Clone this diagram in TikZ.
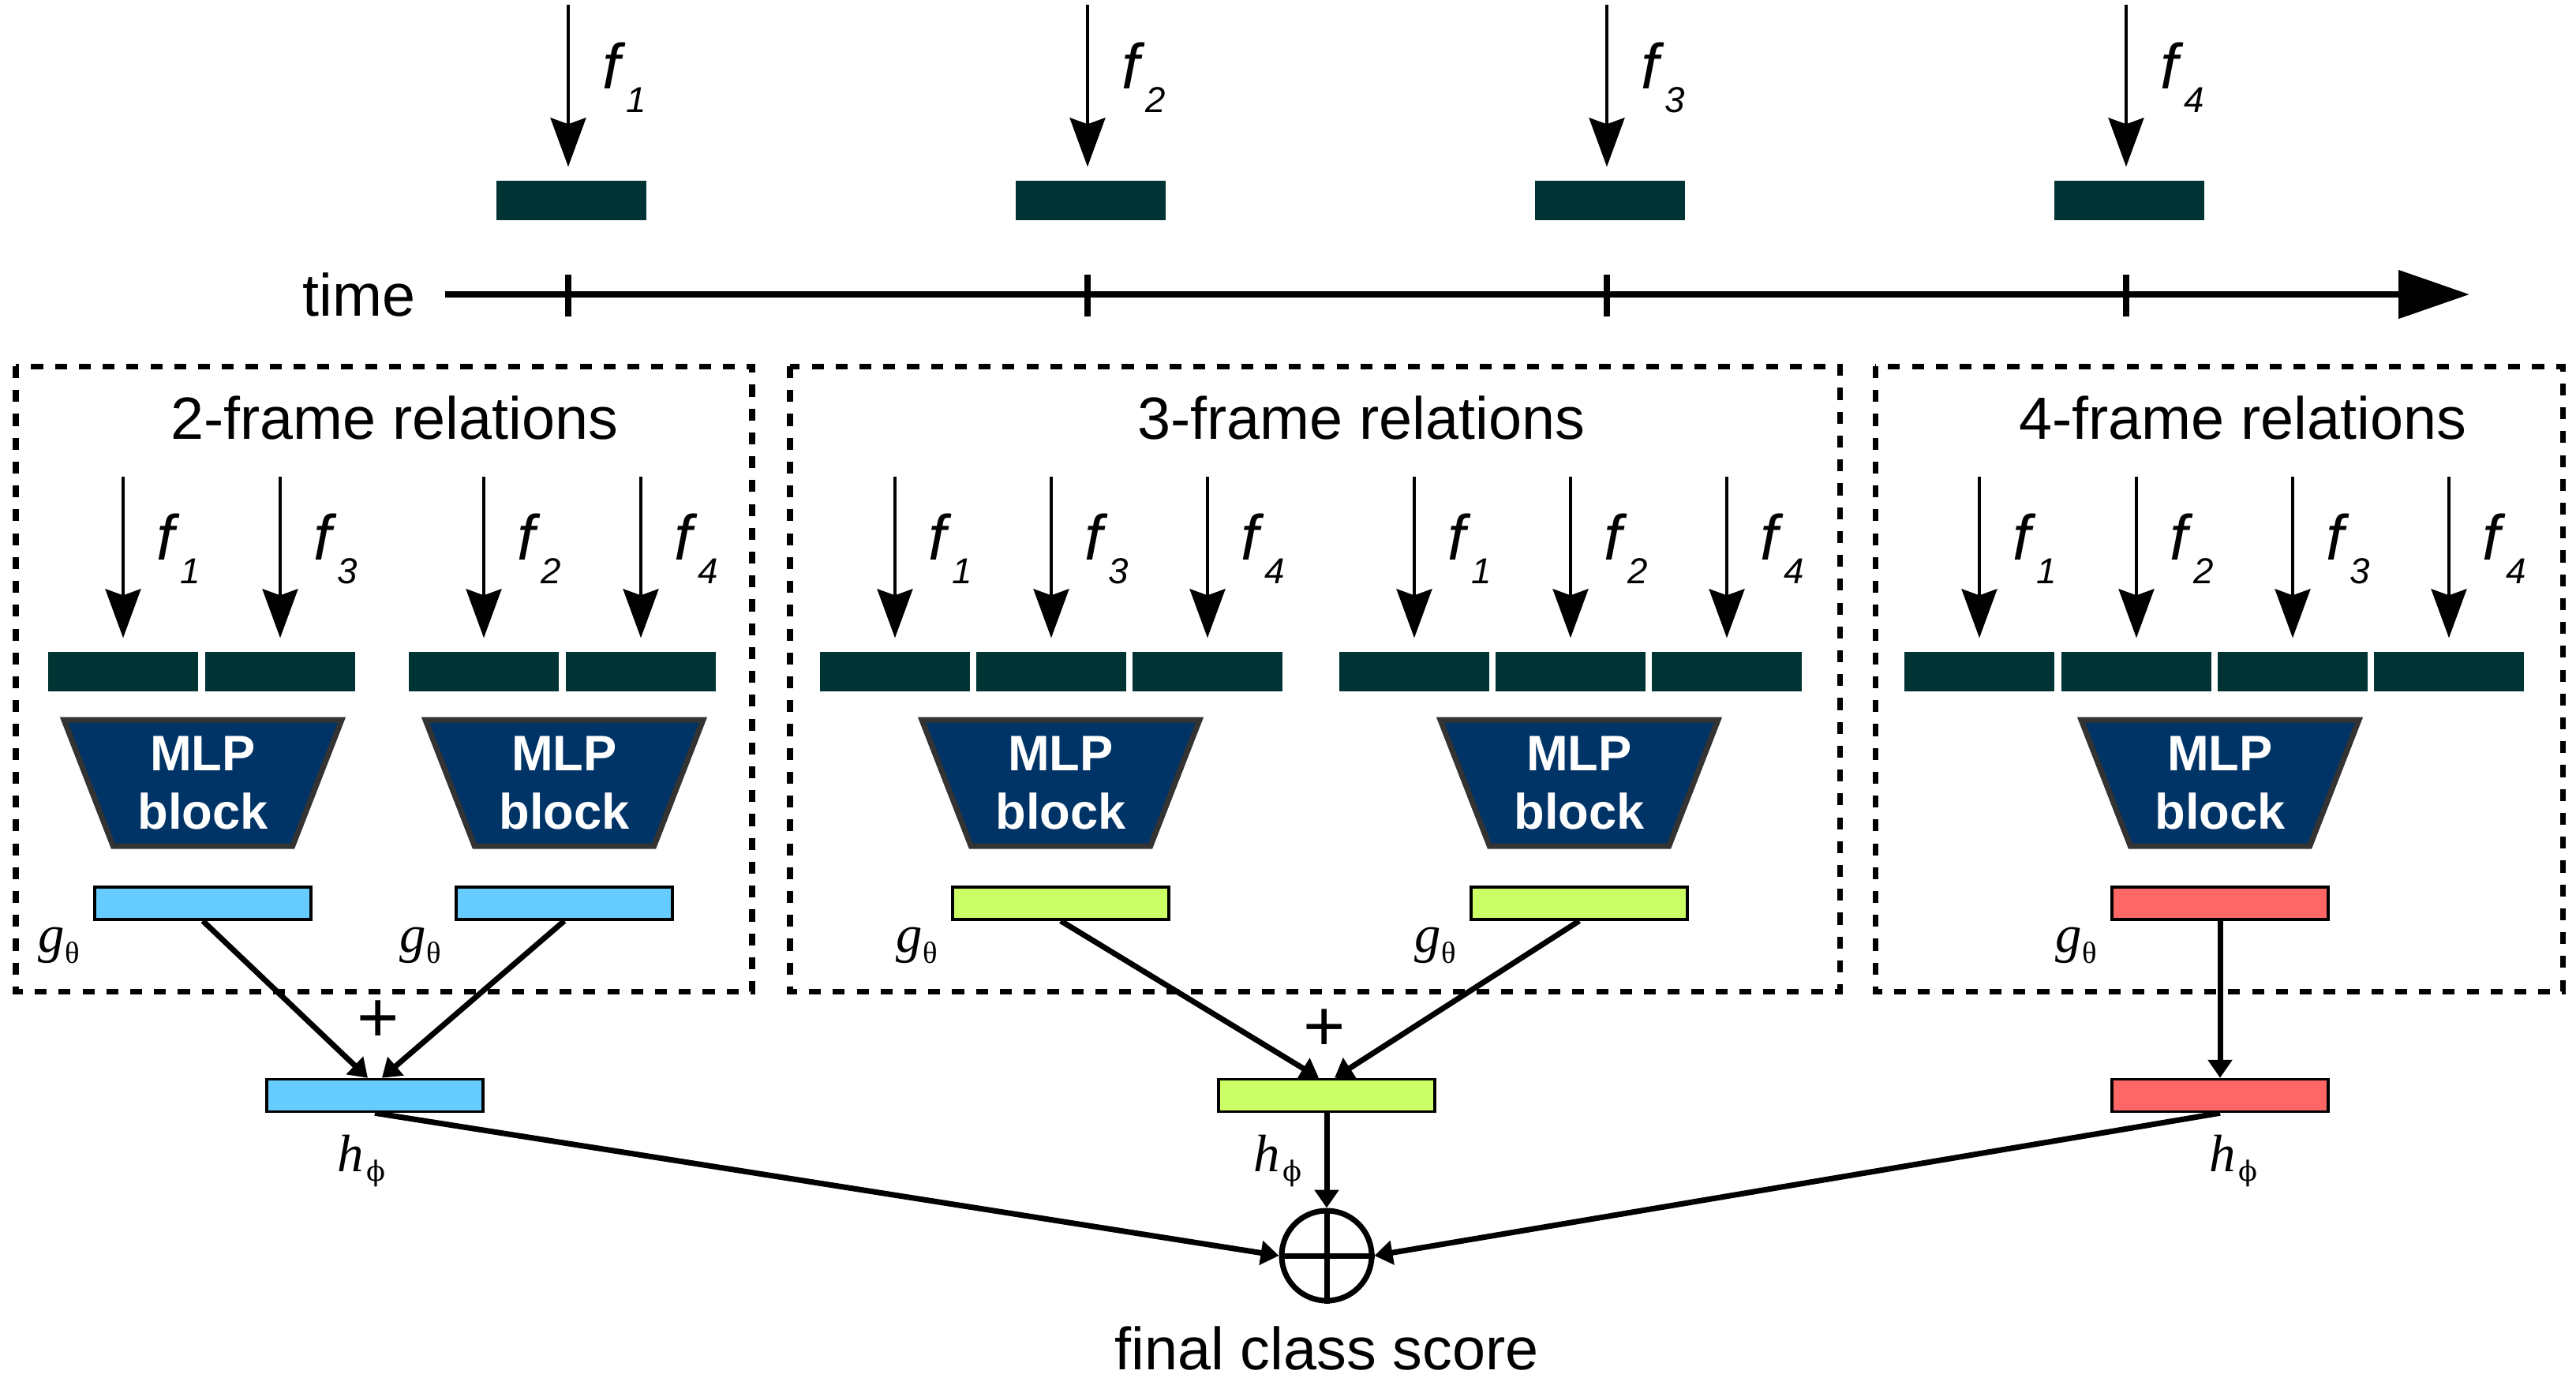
\documentclass[tikz,border=0pt]{standalone}
\usepackage{fontspec}
\setmainfont{Liberation Sans}
\newfontfamily\lserif{Liberation Serif}
\newfontfamily\dvserif{DejaVu Serif}
\usepackage{tikz}
\usetikzlibrary{arrows.meta,calc,positioning,shapes.geometric}
\definecolor{deepteal}{HTML}{003333}
\definecolor{mlpnavy}{HTML}{003366}
\definecolor{rim}{HTML}{333333}
\definecolor{gsky}{HTML}{66CCFF}
\definecolor{glime}{HTML}{CCFF66}
\definecolor{gred}{HTML}{FF6666}
\newcommand{\fsub}[1]{\textit{f}\raisebox{-8.5pt}{\fontsize{13}{13}\selectfont\itshape #1}}
\newcommand{\gth}{{\lserif\itshape g}\raisebox{-4pt}{\fontsize{11}{11}\selectfont\lserif θ}}
\newcommand{\hph}{{\lserif\itshape h}\hspace{1pt}\raisebox{-3.5pt}{\fontsize{10}{10}\selectfont\dvserif ϕ}}
\tikzset{featbar/.style={fill=deepteal,minimum width=1.9cm,minimum height=.5cm,inner sep=0pt}, fin/.style={line width=1.1pt,-{Stealth[length=6.2mm,width=4.5mm,inset=.8mm]},shorten >=.17cm}, flab/.style={anchor=north west,inner sep=0pt,font=\fontsize{23}{23}\selectfont}, axisline/.style={line width=2.2pt}, groupbox/.style={line width=2pt,dash pattern=on 4.3pt off 4.3pt}, boxtitle/.style={inner sep=0pt,font=\fontsize{21.5}{24}\selectfont}, mlp/.style={trapezium,trapezium left angle=69,trapezium right angle=69,shape border rotate=180,trapezium stretches=true,minimum width=3.53cm,minimum height=1.6cm,draw=rim,line width=2pt,fill=mlpnavy,text=white,font=\fontsize{18}{21}\selectfont\bfseries,align=center,inner sep=0pt}, gbar/.style={draw,line width=1pt,minimum width=2.74cm,minimum height=.41cm,inner sep=0pt}, link/.style={line width=2pt,-{Triangle[length=2.3mm,width=3mm]}}, sumnode/.style={circle,draw,line width=2pt,minimum size=1.14cm,inner sep=0pt}, glab/.style={inner sep=0pt,font=\fontsize{19}{19}\selectfont}, plussign/.style={inner sep=0pt,font=\fontsize{26}{26}\selectfont}}
\begin{document}
\begin{tikzpicture}
\useasboundingbox (0,0) rectangle (32.64,-17.45);
% time line with the four frames
\coordinate (t0) at (5.64,-3.73);\coordinate (tend) at (31.29,-3.73);
\node[boxtitle,left=.37cm of t0] (tm) {time};
\draw[axisline,-{Triangle[length=9mm,width=6mm]}] (t0) -- (tend);
\foreach \i/\x in {1/7.20,2/13.78,3/20.36,4/26.94}{
  \coordinate (s\i) at (\x,-.06);
  \node[featbar] (fr\i) at (\x+.04,-2.54) {};
  \draw[fin] (s\i) -- (s\i|-fr\i.north);
  \node[flab] at ($(s\i)+(.43,-.47)$) {\fsub{\i}};
  \draw[axisline] (\x,-3.48) -- (\x,-4.01);
}
% relation groups
\draw[groupbox] (.20,-4.64) rectangle (9.53,-12.56);
\draw[groupbox] (10.01,-4.64) rectangle (23.31,-12.56);
\draw[groupbox] (23.76,-4.64) rectangle (32.47,-12.56);
\node[boxtitle,anchor=base] at (5.00,-5.56) {2-frame relations};
\node[boxtitle,anchor=base] at (17.25,-5.56) {3-frame relations};
\node[boxtitle,anchor=base] at (28.42,-5.56) {4-frame relations};
\foreach \x/\k [count=\n] in {1.56/1,3.55/3,6.13/2,8.12/4,11.34/1,13.32/3,15.30/4,17.92/1,19.90/2,21.88/4,25.08/1,27.07/2,29.05/3,31.03/4}{
  \coordinate (a\n) at (\x,-6.04);
  \node[featbar] (b\n) at (\x,-8.51) {};
  \draw[fin] (a\n) -- (b\n);
  \node[flab] at ($(a\n)+(.42,-.46)$) {\fsub{\k}};
}
\foreach \x/\c [count=\n] in {2.57/gsky,7.15/gsky,13.44/glime,20.01/glime,28.13/gred}{
  \node[mlp] (m\n) at (\x,-9.92) {MLP\\block};
  \node[gbar,fill=\c] (g\n) at (\x,-11.445) {};
  \node[glab,anchor=north east] at ($(g\n.south west)+(-.17,-.08)$) {\gth};
}
% sums and final score
\node[gbar,fill=gsky] (h1) at (4.75,-13.88) {};
\node[gbar,fill=glime] (h2) at (16.81,-13.88) {};
\node[gbar,fill=gred] (h3) at (28.13,-13.88) {};
\node[glab,anchor=north] at ($(h1.south)+(-.17,-.27)$) {\hph};
\node[glab,anchor=north east] at ($(h2.south)+(-.31,-.27)$) {\hph};
\node[glab,anchor=north] at ($(h3.south)+(.17,-.27)$) {\hph};
\node[plussign] at (4.79,-12.94) {+};
\node[plussign] at (16.78,-13.05) {+};
\draw[link] (g1.south) -- ([xshift=-.09cm]h1.north);
\draw[link] (g2.south) -- ([xshift=.09cm]h1.north);
\draw[link] (g3.south) -- ([xshift=-.1cm]h2.north);
\draw[link] (g4.south) -- ([xshift=.1cm]h2.north);
\draw[link] (g5.south) -- (h3.north);
\node[sumnode] (sum) at (16.81,-15.91) {};
\draw[line width=2pt] (sum.north) -- (sum.south) (sum.west) -- (sum.east);
\draw[link] (h2.south) -- (sum.north);
\draw[link] (h1.south) -- (sum.west);
\draw[link] (h3.south) -- (sum.east);
\node[boxtitle,below=.28cm of sum] (score) {final class score};
\end{tikzpicture}
\end{document}
